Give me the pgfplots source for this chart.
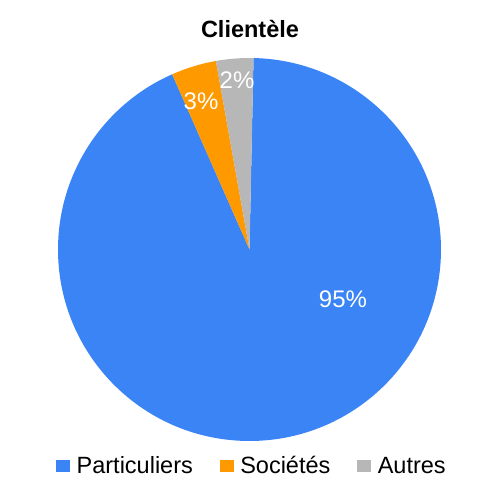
\documentclass[border=0pt]{standalone}
\usepackage{pgfplots}
\pgfplotsset{compat=1.18}
\usepackage{pgfplotstable}
\usepackage{fontspec}
\setmainfont{Liberation Sans}

\definecolor{cblue}{HTML}{3A84F6}
\definecolor{corange}{HTML}{FF9900}
\definecolor{cgray}{HTML}{B7B7B7}

% slice shares (percent), clockwise from the top
\pgfplotstableread{
share color
93.05 cblue
3.81 corange
3.14 cgray
}\pietable

\begin{document}
\begin{tikzpicture}
\begin{axis}[
    width=500pt, height=500pt, scale only axis,
    xmin=0, xmax=500, ymin=0, ymax=500,
    hide axis, clip=false,
    legend columns=3,
    legend style={
        at={(axis cs:252,34)}, anchor=center,
        draw=none, fill=none,
        font=\fontsize{23.5}{27}\selectfont,
        /tikz/every odd column/.append style={column sep=5pt},
        /tikz/every even column/.append style={column sep=25pt},
    },
]
\path (axis cs:0,0) rectangle (axis cs:500,500);

\pgfplotstablegetrowsof{\pietable}
\pgfmathtruncatemacro\nrows{\pgfplotsretval-1}
\def\curang{88.8}
\pgfplotsforeachungrouped \i in {0,...,\nrows}{
    \pgfplotstablegetelem{\i}{share}\of\pietable \let\sh\pgfplotsretval
    \pgfplotstablegetelem{\i}{color}\of\pietable \let\col\pgfplotsretval
    \pgfmathsetmacro\dang{-3.6*\sh}
    \edef\cmd{\noexpand\fill[\col] (axis cs:249.5,250.5) -- ++(\curang:191.5pt)
        arc[start angle=\curang, delta angle=\dang, radius=191.5pt] -- cycle;}
    \cmd
    \pgfmathsetmacro\curang{\curang+\dang}
}

\node[white, font=\fontsize{24}{28}\selectfont] at (axis cs:343,201) {95\%};
\node[white, font=\fontsize{24}{28}\selectfont] at (axis cs:201,399) {3\%};
\node[white, font=\fontsize{24}{28}\selectfont] at (axis cs:237,420) {2\%};

\node[anchor=base, font=\bfseries\fontsize{23.5}{27}\selectfont] at (axis cs:250,462) {Clientèle};

\addlegendimage{legend image code/.code={\fill[cblue] (0pt,-5.5pt) rectangle (13pt,5.5pt);}}
\addlegendentry{Particuliers}
\addlegendimage{legend image code/.code={\fill[corange] (0pt,-5.5pt) rectangle (13pt,5.5pt);}}
\addlegendentry{Sociétés}
\addlegendimage{legend image code/.code={\fill[cgray] (0pt,-5.5pt) rectangle (13pt,5.5pt);}}
\addlegendentry{Autres}
\end{axis}
\end{tikzpicture}
\end{document}
